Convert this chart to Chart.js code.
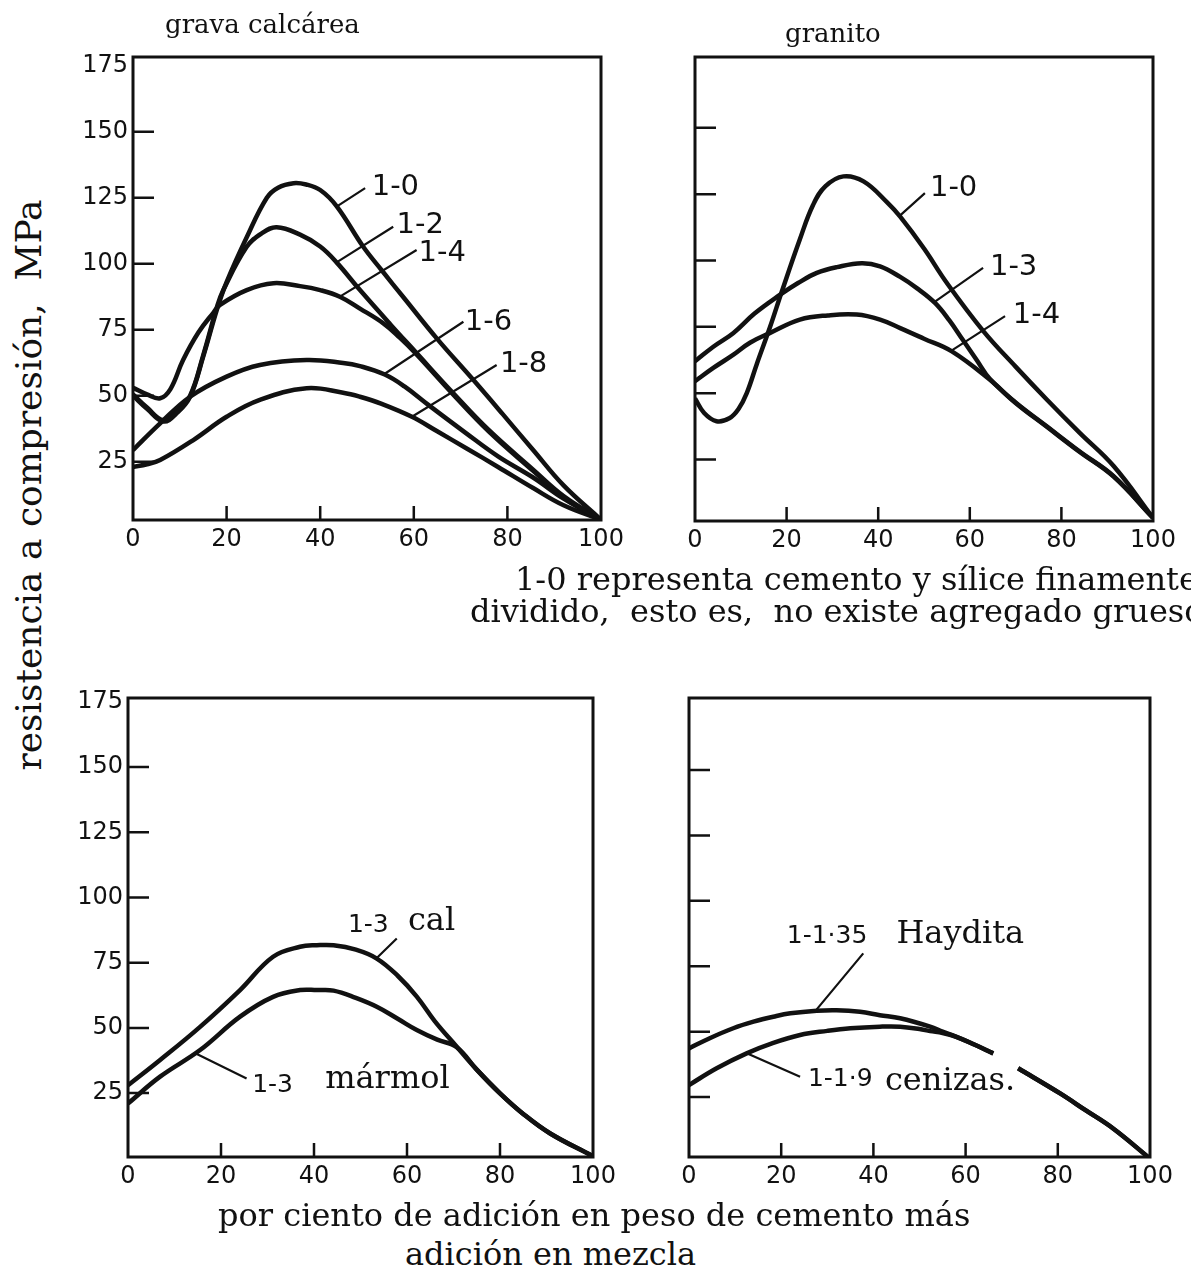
<!DOCTYPE html>
<html>
<head>
<meta charset="utf-8">
<script src="https://cdn.jsdelivr.net/npm/chart.js@4.4.1/dist/chart.umd.min.js"></script>
<style>
html,body{margin:0;padding:0;background:#fff;width:1191px;height:1279px;overflow:hidden;position:relative}
canvas{position:absolute}
.t{position:absolute;font-family:"DejaVu Serif",serif;color:#111;white-space:pre;line-height:1}
</style>
</head>
<body>
<canvas id="c1"></canvas>
<canvas id="c2"></canvas>
<canvas id="c3"></canvas>
<canvas id="c4"></canvas>

<div class="t" style="left:165px;top:11px;font-size:26px">grava calcárea</div>
<div class="t" style="left:785px;top:20px;font-size:26px">granito</div>
<div class="t" style="left:515px;top:563px;font-size:32px">1-0 representa cemento y sílice finamente</div>
<div class="t" style="left:470px;top:595px;font-size:32px">dividido,  esto es,  no existe agregado grueso</div>
<div class="t" style="left:218px;top:1199px;font-size:32px">por ciento de adición en peso de cemento más</div>
<div class="t" style="left:405px;top:1238px;font-size:32px">adición en mezcla</div>
<div class="t" style="left:29px;top:485px;font-size:36px;transform:translate(-50%,-50%) rotate(-90deg)">resistencia a compresión,  MPa</div>

<script>
const xTicks = [0, 20, 40, 60, 80, 100];
const yTicks = [25, 50, 75, 100, 125, 150, 175];

// grava calcárea
const gc10x = [0,3,6.5,9.3,12.2,15,18,20,24.3,28.6,31,34.3,37,40,43.5,49.2,53.1,58,64.9,72.7,79,85.5,92,100];
const gc10y = [50,45,40.2,43.3,49.6,64.8,83,93,110,125,128.8,130.5,130,127.9,121.8,106.4,97.6,86.8,71.7,56,43,29.4,16,3];
const gc12x = [0,3,6.5,9.3,12.2,15,18,19.3,24.3,27.5,30.7,35.7,40,43.5,48.5,55,60.3,68.4,76,85.5,92,100];
const gc12y = [50.5,45.5,40.7,43.8,50,65.3,84,90,106.4,111.5,113.8,111,106.5,100.5,90,77,66.7,51,37,22,12,3];
const gc14x = [0,3,5.8,8,10.7,14,17.2,18.6,24.3,30,35.7,40,44.2,48.5,53.5,57,60.3,68.4,76,85.5,92,100];
const gc14y = [53,50.5,49,52.5,63.5,74,81.5,84.4,90,92.6,91.5,90,87.5,83,77.4,72,66.2,50.5,36.5,21.5,11.5,3];
const gc16x = [0,5.8,12.2,20,27.1,37.1,44.9,48.5,53.8,58,63.1,71,78,85.5,92,100];
const gc16y = [29.4,39.5,49.6,57.2,61.6,63.5,62.4,61.2,58,53.5,46.5,36,27,19,11,3];
const gc18x = [0,3,5.8,12.9,20,27.1,37.1,44.9,48.5,53,59.6,65,71.3,78,85.5,92,100];
const gc18y = [23,24,25.6,33.2,42,48.4,52.8,51.1,49.6,47,42,36.5,30,23,15,8.5,3];

// granito
const gr10x = [0,2,4.7,7.5,9.5,11.3,13.5,16.4,18.9,22.9,25.8,28.5,32.4,36.8,41.9,44.8,50,55,63,70,76.8,84,91.4,100];
const gr10y = [48,42.5,39.4,40.5,44,50,61,75,88,108,121,128,131.7,129.8,122,116.5,104.5,91.5,73.3,60,47.6,35,22.5,3];
const gr13x = [0,4,8.4,13,18.6,22.5,26.6,31,36.4,40.4,44.8,48.5,52.4,55.5,58.5,61.5,64.4,70,76.8,84,91.4,100];
const gr13y = [62,67.5,72.7,80,87.1,91.5,95.3,97.5,99,97.8,93.8,89.5,84,77.5,70,62.5,55.3,46.5,37.5,28,18.7,3];
const gr14x = [0,4,8.4,12,16.4,22.9,29,35.3,40.4,44.8,50,56,64.4,70,76.8,84,91.4,100];
const gr14y = [54.5,59.5,64.5,69,72.7,77.7,79.3,79.6,77.7,74.5,70.5,65.8,55,46.3,37.3,27.8,18.5,3];

// cal / mármol
const calx = [0,6.9,15.5,24.1,31.2,37,40.6,44.2,49,53.5,58,62.1,66,70.7,75,80,85,90.8,100];
const caly = [28,37.7,50.4,64.5,77.3,81.1,81.7,81.7,80,76.6,70,62,52.5,42.8,34,24.9,17,9.5,0.8];
const marx = [0,6.9,15.5,24.1,31.2,37,40.6,44.2,49,53.5,58,62.1,66.5,70.7,75,80,85,90.8,100];
const mary = [21,31.3,41.5,54.3,61.9,64.5,64.5,64.3,61.5,58.1,53.5,49.2,45.5,42.6,34,24.9,17,9.5,0.8];

// Haydita / cenizas
const hayx = [0,4.5,9.6,14,18.3,22,27.7,32,37.1,41.4,45.8,52.3,55,58,62,66,68.5,71.4,80.5,86,92,100];
const hayy = [43.6,47.5,51.3,53.8,55.7,57,58,58.2,57.6,56.3,55.1,51.9,50,48,45,41.7,null,36,26.4,20,13,1.5];
const cenx = [0,6,12.5,18,24.1,30,35,41.4,45.8,50,52.3,55,58,62,66,68.5,71.4,80.5,86,92,100];
const ceny = [29.6,36,41.7,45.5,48.7,50.3,51.3,51.9,51.9,51,50.2,49.5,48,45,41.7,null,36,26.4,20,13,1.5];

const SANS = '"DejaVu Sans", sans-serif';
const SERIF = '"DejaVu Serif", serif';

// labels and leader lines, in data units of each panel
const notes = {
  c1: {
    text: [['1-0',51,128.7],['1-2',56.3,114.3],['1-4',61,104],['1-6',70.9,77.9],['1-8',78.4,62]],
    font: '29px ' + SANS,
    leaders: [[43.5,121.6,49.6,128.6],[43.5,100.5,55.6,114],[44.2,87.5,60.6,105.2],[53.8,58.3,70.6,78],[59.6,42,77.7,61.6]]
  },
  c2: {
    text: [['1-0',51.3,127],['1-3',64.4,97.3],['1-4',69.4,79.2]],
    font: '29px ' + SANS,
    leaders: [[44.8,117,50.2,125.4],[52.4,84.5,62.9,97.2],[56,66,67.7,79]]
  },
  c3: {
    text: [['1-3',47.3,89.4,'25px ' + SANS],['cal',60.2,90.6,'32px ' + SERIF],['1-3',26.7,28.1,'25px ' + SANS],['mármol',42.4,30,'32px ' + SERIF]],
    leaders: [[53.5,76.8,57.8,84.3],[14.8,40,25.5,30.6]]
  },
  c4: {
    text: [['1-1·35',21.2,86.5,'25px ' + SANS],['Haydita',45,86.9,'32px ' + SERIF],['1-1·9',25.8,31.9,'25px ' + SANS],['cenizas.',42.5,30.7,'32px ' + SERIF]],
    leaders: [[27.7,58.5,37.8,79.9],[12.9,41.5,24.1,32.8]]
  }
};

const framePlugin = {
  id: 'frame',
  afterDraw(chart) {
    const ctx = chart.ctx, a = chart.chartArea;
    const x = chart.scales.x, y = chart.scales.y;
    ctx.save();
    ctx.strokeStyle = '#111';
    ctx.lineWidth = 3;
    ctx.strokeRect(a.left, a.top, a.right - a.left, a.bottom - a.top);
    ctx.lineWidth = 2.5;
    ctx.beginPath();
    yTicks.forEach(v => {
      if (v >= 175) return;
      const py = y.getPixelForValue(v);
      ctx.moveTo(a.left, py); ctx.lineTo(a.left + 21, py);
    });
    xTicks.forEach(v => {
      if (v === 0 || v === 100) return;
      const px = x.getPixelForValue(v);
      ctx.moveTo(px, a.bottom); ctx.lineTo(px, a.bottom - 14);
    });
    ctx.stroke();

    const n = notes[chart.canvas.id];
    ctx.lineWidth = 2.2;
    ctx.beginPath();
    n.leaders.forEach(l => {
      ctx.moveTo(x.getPixelForValue(l[0]), y.getPixelForValue(l[1]));
      ctx.lineTo(x.getPixelForValue(l[2]), y.getPixelForValue(l[3]));
    });
    ctx.stroke();
    ctx.fillStyle = '#111';
    ctx.textAlign = 'left';
    ctx.textBaseline = 'middle';
    n.text.forEach(t => {
      ctx.font = t[3] || n.font;
      ctx.fillText(t[0], x.getPixelForValue(t[1]), y.getPixelForValue(t[2]));
    });
    ctx.restore();
  }
};

const pts = (xs, ys) => xs.map((v, i) => ({x: v, y: ys[i]}));

function panel(id, rect, yMin, yMax, showY, series) {
  const cv = document.getElementById(id);
  const w = rect[2] - rect[0] + 60 + 32;
  const h = rect[3] - rect[1] + 20 + 40;
  cv.width = w; cv.height = h;
  cv.style.left = (rect[0] - 60) + 'px';
  cv.style.top = (rect[1] - 20) + 'px';
  new Chart(cv, {
    type: 'line',
    data: {
      datasets: series.map(s => ({
        data: pts(s[0], s[1]),
        borderColor: '#111',
        borderWidth: 4.5,
        pointRadius: 0,
        fill: false,
        tension: 0.4,
        spanGaps: false
      }))
    },
    options: {
      responsive: false,
      animation: false,
      devicePixelRatio: 1,
      layout: {padding: {top: 20, right: 32, left: 0, bottom: 0}},
      plugins: {legend: {display: false}, tooltip: {enabled: false}},
      scales: {
        x: {
          type: 'linear', min: 0, max: 100,
          grid: {display: false, drawTicks: false},
          border: {display: false},
          afterBuildTicks: s => { s.ticks = xTicks.map(v => ({value: v})); },
          afterFit: s => { s.height = 40; },
          ticks: {color: '#111', padding: 5, maxRotation: 0, font: {family: SANS, size: 24}}
        },
        y: {
          type: 'linear', min: yMin, max: yMax,
          grid: {display: false, drawTicks: false},
          border: {display: false},
          afterBuildTicks: s => { s.ticks = yTicks.map(v => ({value: v})); },
          afterFit: s => { s.width = 60; },
          ticks: {display: showY, color: '#111', padding: 5, font: {family: SANS, size: 24}}
        }
      }
    },
    plugins: [framePlugin]
  });
}

panel('c1', [133, 57, 601, 520], 2.9, 178.3, true,
  [[gc10x, gc10y], [gc12x, gc12y], [gc14x, gc14y], [gc16x, gc16y], [gc18x, gc18y]]);
panel('c2', [695, 57, 1153, 521], 1.8, 176.7, false,
  [[gr10x, gr10y], [gr13x, gr13y], [gr14x, gr14y]]);
panel('c3', [128, 698, 593, 1157], 0.5, 176.5, true,
  [[calx, caly], [marx, mary]]);
panel('c4', [689, 698, 1150, 1157], 2.1, 177.5, false,
  [[hayx, hayy], [cenx, ceny]]);
</script>
</body>
</html>
